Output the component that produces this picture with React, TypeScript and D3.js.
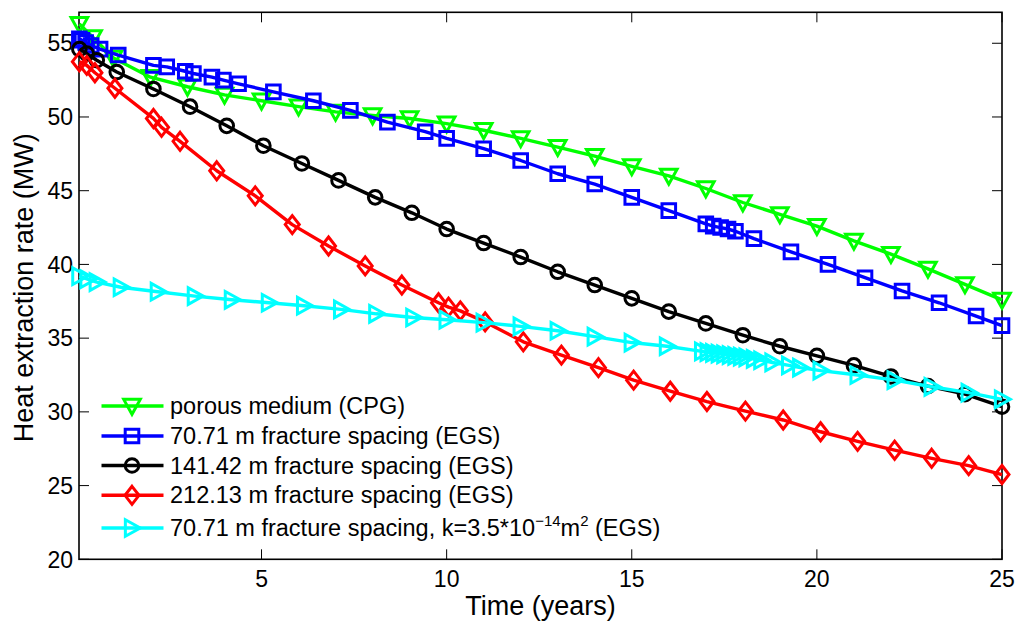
import React from "react";
import * as d3 from "d3";

const greenT = [0.08, 0.45, 1, 2, 3, 4, 5, 6, 7, 8, 9, 10, 11, 12, 13, 14, 15, 16, 17, 18, 19, 20, 21, 22, 23, 24, 25];
const greenV = [56.3, 55.4, 54.0, 52.7, 52.05, 51.5, 51.1, 50.7, 50.35, 50.1, 49.9, 49.55, 49.1, 48.55, 47.95, 47.35, 46.65, 46.0, 45.15, 44.2, 43.4, 42.6, 41.6, 40.7, 39.7, 38.65, 37.6];

const blueT = [0.08, 0.15, 0.25, 0.4, 0.64, 1.13, 2.08, 2.44, 2.94, 3.16, 3.66, 3.97, 4.38, 5.32, 6.4, 7.4, 8.4, 9.42, 10, 11, 12, 13, 14, 15, 16, 17, 17.2, 17.4, 17.6, 17.8, 18.3, 19.3, 20.3, 21.3, 22.3, 23.3, 24.3, 25];
const blueV = [55.3, 55.2, 55.05, 54.85, 54.6, 54.2, 53.5, 53.4, 53.1, 52.95, 52.7, 52.5, 52.25, 51.7, 51.1, 50.45, 49.65, 49.0, 48.55, 47.85, 47.05, 46.15, 45.45, 44.55, 43.65, 42.75, 42.6, 42.5, 42.4, 42.25, 41.75, 40.85, 40.0, 39.1, 38.2, 37.4, 36.5, 35.85];

const blackT = [0.08, 0.28, 0.55, 1.09, 2.08, 3.07, 4.06, 5.05, 6.09, 7.08, 8.07, 9.06, 10, 11, 12, 13, 14, 15, 16, 17, 18, 19, 20, 21, 22, 23, 24, 25];
const blackV = [54.6, 54.3, 53.85, 53.05, 51.9, 50.7, 49.4, 48.05, 46.85, 45.7, 44.55, 43.5, 42.4, 41.45, 40.5, 39.5, 38.6, 37.7, 36.8, 36.0, 35.2, 34.45, 33.8, 33.15, 32.4, 31.75, 31.2, 30.35];

const redT = [0.08, 0.28, 0.5, 1.04, 2.08, 2.3, 2.8, 3.79, 4.83, 5.83, 6.81, 7.8, 8.79, 9.78, 10.05, 10.37, 11.04, 12.07, 13.1, 14.1, 15.05, 16.04, 17.03, 18.07, 19.09, 20.1, 21.1, 22.1, 23.1, 24.1, 25];
const redV = [53.75, 53.5, 53.0, 51.95, 49.9, 49.3, 48.35, 46.35, 44.65, 42.7, 41.25, 39.9, 38.6, 37.4, 37.1, 36.85, 36.1, 34.75, 33.85, 33.0, 32.15, 31.4, 30.7, 30.05, 29.45, 28.65, 28.0, 27.4, 26.85, 26.35, 25.75];

const cyanT = [0.08, 0.3, 0.55, 1.2, 2.2, 3.2, 4.2, 5.2, 6.15, 7.15, 8.1, 9.1, 10, 11, 12, 13, 14, 15, 15.95, 16.9, 17.05, 17.2, 17.35, 17.5, 17.65, 17.8, 17.95, 18.1, 18.3, 18.5, 18.8, 19.25, 19.55, 20.1, 21.1, 22.1, 23.1, 24.1, 25];
const cyanV = [39.2, 39.0, 38.8, 38.45, 38.15, 37.85, 37.6, 37.4, 37.2, 36.95, 36.65, 36.4, 36.25, 36.05, 35.8, 35.5, 35.1, 34.7, 34.45, 34.1, 34.05, 34.0, 33.95, 33.9, 33.85, 33.8, 33.75, 33.7, 33.6, 33.5, 33.35, 33.15, 33.0, 32.8, 32.5, 32.15, 31.7, 31.3, 30.85];

const xTicks = [5, 10, 15, 20, 25];
const yTicks = [20, 25, 30, 35, 40, 45, 50, 55];
const xDomain = [0.07, 25];
const yDomain = [20, 57.1];

type Marker = "v" | "s" | "o" | "d" | ">";

const seriesList: { name: string; color: string; marker: Marker; t: number[]; v: number[] }[] = [
  { name: "porous medium (CPG)", color: "#00ff00", marker: "v", t: greenT, v: greenV },
  { name: "70.71 m fracture spacing (EGS)", color: "#0000ff", marker: "s", t: blueT, v: blueV },
  { name: "141.42 m fracture spacing (EGS)", color: "#000000", marker: "o", t: blackT, v: blackV },
  { name: "212.13 m fracture spacing (EGS)", color: "#ff0000", marker: "d", t: redT, v: redV },
  { name: "cyan", color: "#00ffff", marker: ">", t: cyanT, v: cyanV },
];

const FONT = "'Liberation Sans', Arial, Helvetica, sans-serif";

function markerPath(m: Marker, cx: number, cy: number): string {
  const s = 8.3;
  switch (m) {
    case "v":
      return `M${cx - s},${cy - s * 0.8}L${cx + s},${cy - s * 0.8}L${cx},${cy + s}Z`;
    case "s": {
      const h = 6.8;
      return `M${cx - h},${cy - h}L${cx + h},${cy - h}L${cx + h},${cy + h}L${cx - h},${cy + h}Z`;
    }
    case "d": {
      const w = 7, hh = 9;
      return `M${cx},${cy - hh}L${cx + w},${cy}L${cx},${cy + hh}L${cx - w},${cy}Z`;
    }
    case ">":
      return `M${cx - s * 0.8},${cy - s}L${cx - s * 0.8},${cy + s}L${cx + s},${cy}Z`;
    default:
      return "";
  }
}

function MarkerShape({ m, cx, cy, color }: { m: Marker; cx: number; cy: number; color: string }) {
  if (m === "o") {
    return <circle cx={cx} cy={cy} r={6.8} fill="none" stroke={color} strokeWidth={3} />;
  }
  return <path d={markerPath(m, cx, cy)} fill="none" stroke={color} strokeWidth={3} strokeLinejoin="miter" />;
}

export default function App() {
  const left = 79, right = 1002, top = 12.3, bottom = 559.3;
  const x = d3.scaleLinear().domain(xDomain).range([left, right]);
  const y = d3.scaleLinear().domain(yDomain).range([bottom, top]);
  const line = d3
    .line<[number, number]>()
    .x((d) => x(d[0]))
    .y((d) => y(d[1]));

  const legendRows = [406, 436, 465.5, 495.3, 528];
  const tickLen = 10;

  return (
    <svg
      width={1021}
      height={627}
      style={{ position: "absolute", left: 0, top: 0, background: "#fff" }}
      fontFamily={FONT}
    >
      <rect x={0} y={0} width={1021} height={627} fill="#fff" />
      {xTicks.map((t) => (
        <g key={"xt" + t}>
          <line x1={x(t)} x2={x(t)} y1={bottom} y2={bottom - tickLen} stroke="#000" strokeWidth={1} />
          <line x1={x(t)} x2={x(t)} y1={top} y2={top + tickLen} stroke="#000" strokeWidth={1} />
          <text x={x(t)} y={587} fontSize={23} textAnchor="middle" fill="#000">
            {t}
          </text>
        </g>
      ))}
      {yTicks.map((v) => (
        <g key={"yt" + v}>
          <line x1={left} x2={left + tickLen} y1={y(v)} y2={y(v)} stroke="#000" strokeWidth={1} />
          <line x1={right} x2={right - tickLen} y1={y(v)} y2={y(v)} stroke="#000" strokeWidth={1} />
          <text x={73} y={y(v) + 8.2} fontSize={23} textAnchor="end" fill="#000">
            {v}
          </text>
        </g>
      ))}
      <rect x={left} y={top} width={right - left} height={bottom - top} fill="none" stroke="#000" strokeWidth={1.6} />

      {seriesList.map((s) => {
        const pts = s.t.map((t, i) => [t, s.v[i]] as [number, number]);
        return (
          <g key={s.name}>
            <path d={line(pts) || ""} fill="none" stroke={s.color} strokeWidth={3.4} strokeLinejoin="round" />
            {pts.map((p, i) => (
              <MarkerShape key={i} m={s.marker} cx={x(p[0])} cy={y(p[1])} color={s.color} />
            ))}
          </g>
        );
      })}

      {seriesList.map((s, i) => (
        <g key={"lg" + i}>
          <line x1={101.5} x2={163.5} y1={legendRows[i]} y2={legendRows[i]} stroke={s.color} strokeWidth={3.4} />
          <MarkerShape m={s.marker} cx={132} cy={legendRows[i]} color={s.color} />
          {i < 4 ? (
            <text x={170} y={legendRows[i] + 8} fontSize={23.5} fill="#000">
              {s.name}
            </text>
          ) : (
            <text x={170} y={legendRows[i] + 8} fontSize={23.5} fill="#000">
              70.71 m fracture spacing, k=3.5*10
              <tspan fontSize={15} dy={-10}>−14</tspan>
              <tspan dy={10}>m</tspan>
              <tspan fontSize={15} dy={-10}>2</tspan>
              <tspan dy={10}> (EGS)</tspan>
            </text>
          )}
        </g>
      ))}

      <text x={(left + right) / 2} y={615} fontSize={27} textAnchor="middle" fill="#000">
        Time (years)
      </text>
      <text
        transform={`translate(33,${(top + bottom) / 2 + 2}) rotate(-90)`}
        fontSize={27}
        textAnchor="middle"
        fill="#000"
      >
        Heat extraction rate (MW)
      </text>
    </svg>
  );
}
